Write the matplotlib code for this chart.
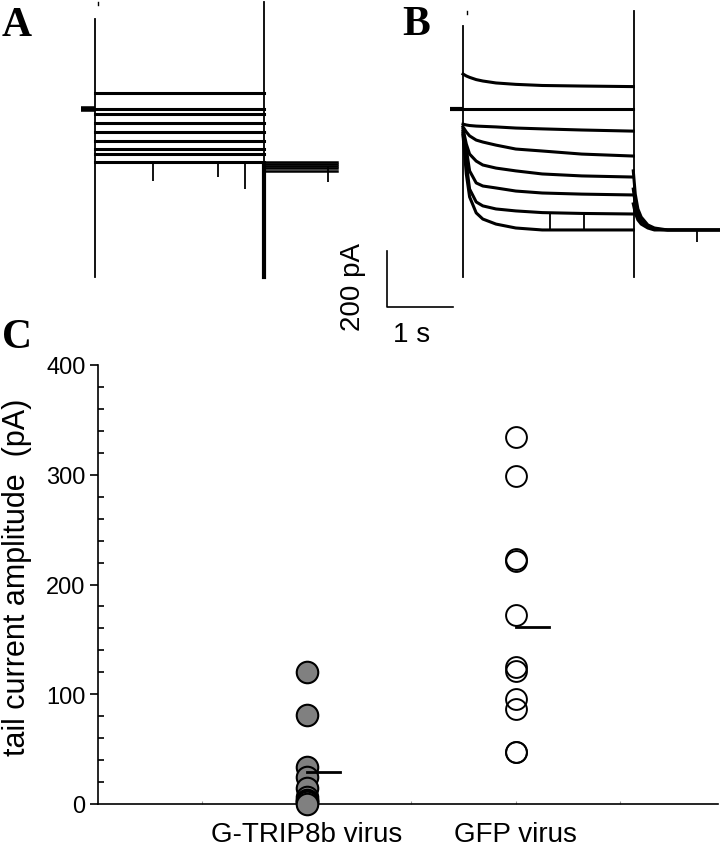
import numpy as np
import matplotlib
matplotlib.use('Agg')
import matplotlib.pyplot as plt

plt.rcParams['font.family'] = ['Liberation Sans', 'DejaVu Sans']

# ---- data ----
# panel A: steady current levels during the step (pA), relative to holding
a_levels = [57, 0, -18, -50, -82, -114, -143, -161, -189]
a_tail_levels = [-189, -196, -204, -211, -221]
a_spike_t = [0.88, 1.86, 2.27, 3.53]
a_spike_top = [-189, -189, -189, -207]
a_spike_bottom = [-257, -243, -286, -261]

# panel B: currents (pA) sampled at these times (s) after step onset
b_times = [0, 0.05, 0.1, 0.2, 0.3, 0.5, 0.8, 1.2, 1.8, 2.58]
b1 = [125, 118, 113, 105, 100, 93, 88, 84, 82, 80]
b2 = [0, 0, 0, 0, 0, 0, 0, 0, 0, 0]
b3 = [-54, -57, -59, -61, -62, -64, -68, -71, -75, -79]
b4 = [-64, -82, -96, -111, -118, -129, -143, -150, -161, -168]
b5 = [-71, -125, -161, -186, -200, -211, -221, -232, -239, -243]
b6 = [-79, -143, -221, -264, -275, -282, -293, -300, -304, -307]
b7 = [-86, -196, -286, -332, -346, -357, -364, -370, -373, -375]
b8 = [-93, -232, -314, -371, -393, -411, -425, -432, -432, -432]
b_tail_times = [2.58, 2.61, 2.65, 2.7, 2.8, 2.9, 3.1, 3.89]
b_tail1 = [-221, -304, -357, -386, -414, -425, -432, -432]
b_tail2 = [-286, -339, -379, -400, -418, -429, -432, -432]
b_tail3 = [-339, -371, -396, -411, -425, -432, -432, -432]
b_spike_t = [1.32, 1.83, 3.55]
b_spike_top = [-375, -375, -432]
b_spike_bottom = [-432, -432, -475]

step_end = 2.58
scale_pa = 200
scale_s = 1

# panel C: tail current amplitudes (pA)
groups = ['G-TRIP8b virus', 'GFP virus']
trip8b = [120, 81, 34, 25, 15, 6, 4, 3, 2, 0]
gfp = [334, 299, 223, 221, 172, 125, 121, 96, 87, 47, 47]

W, H = 720, 853
fig = plt.figure(figsize=(W / 100, H / 100), dpi=100)


def px_axes(x0, y0, x1, y1):
    return fig.add_axes([x0 / W, 1 - y1 / H, (x1 - x0) / W, (y1 - y0) / H])


# traces use 66 px per second and 0.28 px per pA, holding current at y=110 px
def trace_axes(x0, x_onset):
    ax = px_axes(x0, 0, x0 + 360, 350)
    ax.set_xlim((x0 - x_onset) / 66, (x0 + 360 - x_onset) / 66)
    ax.set_ylim((110 - 350) / 0.28, 110 / 0.28)
    ax.axis('off')
    return ax


# ---- panel A ----
axA = trace_axes(0, 95)
axA.plot([-0.21, 0], [0, 0], color='black', lw=4, solid_capstyle='butt')
for lev in a_levels:
    axA.plot([0, step_end - 0.02], [lev, lev], color='black', lw=2.2)
for lev in a_tail_levels:
    axA.plot([step_end - 0.02, 3.67], [lev, lev], color='black', lw=1.8)
axA.vlines(a_spike_t, a_spike_bottom, a_spike_top, color='black', lw=1.3)
axA.plot([0, 0], [-600, 321], color='black', lw=1.3)
axA.plot([2.56, 2.56], [-600, 382], color='black', lw=1.3)
axA.plot([2.56, 2.56], [-600, -200], color='black', lw=3)
axA.plot([0.045, 0.045], [371, 382], color='black', lw=1)

# ---- panel B ----
axB = trace_axes(360, 463)
axB.plot([-0.2, 0], [0, 0], color='black', lw=3, solid_capstyle='butt')
for tr in [b1, b2, b3, b4, b5, b6, b7, b8]:
    axB.plot(b_times, tr, color='black', lw=2.2)
for tr in [b_tail1, b_tail2, b_tail3]:
    axB.plot(b_tail_times, tr, color='black', lw=2.2)
axB.vlines(b_spike_t, b_spike_bottom, b_spike_top, color='black', lw=1.3)
axB.plot([0, 0], [-600, 296], color='black', lw=1.3)
axB.plot([2.59, 2.59], [-600, 350], color='black', lw=1.3)
axB.plot([0.06, 0.06], [339, 350], color='black', lw=1)

# scale bar
sb_t, sb_i = -1.15, -707
axB.plot([sb_t, sb_t, sb_t + scale_s], [sb_i + scale_pa, sb_i, sb_i],
         color='black', lw=1.2, clip_on=False)
axB.text(-1.667, -632, '%d pA' % scale_pa, rotation=90, fontsize=20,
         ha='center', va='center', clip_on=False)
axB.text(-0.773, -804, '%d s' % scale_s, fontsize=20,
         ha='center', va='center', clip_on=False)

# ---- panel C ----
axC = px_axes(98, 366, 718, 805)
axC.plot(np.full(len(trip8b), 1.0), trip8b, 'o', ms=15.5, mfc='#808080',
         mec='black', mew=1.5, clip_on=False, zorder=3)
axC.plot(np.full(len(gfp), 2.0), gfp, 'o', ms=15, mfc='none',
         mec='black', mew=1.4, clip_on=False, zorder=3)
for xpos, vals in zip([1, 2], [trip8b, gfp]):
    m = np.mean(vals)
    axC.plot([xpos, xpos + 0.16], [m, m], color='black', lw=2, zorder=4)

axC.set_xlim(0, 2.97)
axC.set_ylim(0, 400)
axC.spines['top'].set_visible(False)
axC.spines['right'].set_visible(False)
axC.spines['left'].set_linewidth(1.2)
axC.spines['bottom'].set_linewidth(1.2)
axC.set_yticks([0, 100, 200, 300, 400])
axC.set_yticks(np.arange(20, 400, 20), minor=True)
axC.tick_params(axis='y', which='major', direction='out', length=6,
                width=1.2, labelsize=17, pad=3)
axC.tick_params(axis='y', which='minor', direction='in', length=4.5, width=1.2)
axC.set_xticks([1, 2])
axC.set_xticklabels(groups)
axC.set_xticks([0.5, 1.5, 2.5], minor=True)
axC.tick_params(axis='x', which='both', direction='in', length=2,
                width=0.8, color='#999999', labelsize=20, pad=12)
axC.set_ylabel('tail current amplitude  (pA)', fontsize=22)
axC.yaxis.set_label_coords(-0.106, 0.518)

# panel letters
for lab, x, y in [('A', 2, 36), ('B', 402, 35), ('C', 2, 348)]:
    fig.text(x / W, 1 - y / H, lab, fontsize=30, fontweight='bold',
             family='Liberation Serif', ha='left', va='baseline')

fig.savefig('out.png', dpi=100)
